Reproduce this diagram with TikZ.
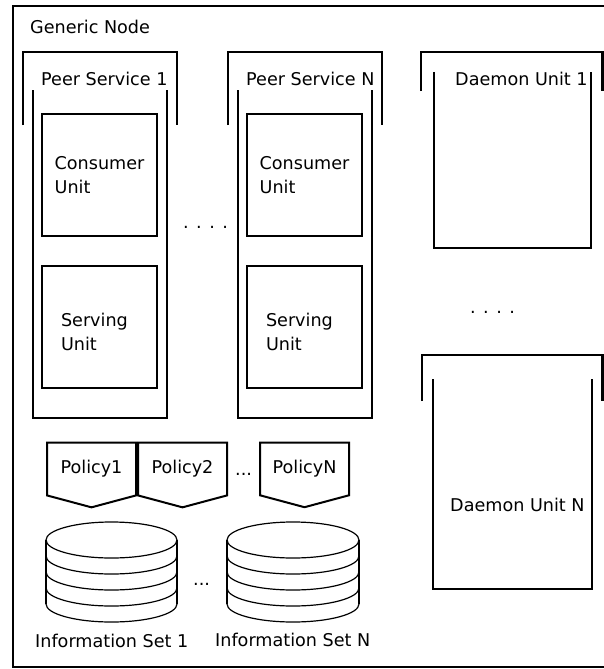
\documentclass[tikz,border=0pt]{standalone}
\usepackage{fontspec}
\setmainfont{DejaVu Sans}
\usetikzlibrary{shapes.symbols,positioning}

\begin{document}
\begin{tikzpicture}[x=1pt,y=-1pt,
    every node/.style={font=\fontsize{17.6}{24}\selectfont},
    textlabel/.style={anchor=base west,inner sep=0pt},
    unitbox/.style={rectangle,draw,line width=2.5pt,minimum width=115pt,minimum height=122pt,align=left},
    servbox/.style={unitbox,text width=77pt,text height=23pt},
    policy/.style={signal,signal to=south,signal pointer angle=150,draw,line width=2pt,minimum width=89pt,minimum height=62pt},
    bracket/.style={line width=2.5pt},
    disk/.style={line width=1.2pt}
]
\useasboundingbox (0,0) rectangle (604,669);

% Generic Node frame
\draw[line width=2.5pt] (13,6) rectangle (616,667);
\node[textlabel] (generic) at (30,34) {Generic Node};

% Peer Services
\draw[bracket] (23,125) |- (177,52) -- (177,125);
\draw[bracket] (33,90) |- (167,418) -- (167,90);
\node[textlabel] (peer1) at (41,85) {Peer Service 1};
\draw[bracket] (228,125) |- (382,52) -- (382,125);
\draw[bracket] (238,90) |- (372,418) -- (372,90);
\node[textlabel] (peerN) at (246,85) {Peer Service N};

\node[unitbox] (cons1) at (99.5,175) {Consumer\\Unit};
\node[servbox,below=27.5pt of cons1] (serv1) {Serving\\Unit};
\node[unitbox,right=87.5pt of cons1] (consN) {Consumer\\Unit};
\node[servbox,below=27.5pt of consN] (servN) {Serving\\Unit};
\node[textlabel] (dotsA) at (183,228) {. . . .};

% Daemon Units
\draw[bracket] (421,91) |- (602.5,52) -- (602.5,91);
\draw[bracket] (434,72) |- (591,248) -- (591,72);
\node[textlabel] (daemon1) at (455,85) {Daemon Unit 1};
\node[textlabel] (dotsB) at (470,313) {. . . .};
\draw[bracket] (422,401) |- (602.5,355) -- (602.5,401);
\draw[bracket] (433,379) |- (592,589) -- (592,379);
\node[textlabel] (daemonN) at (450,511) {Daemon Unit N};

% Policies
\node[policy] (pol1) at (91.5,469) {Policy1};
\node[policy,right=0pt of pol1] (pol2) {Policy2};
\node[policy,right=31pt of pol2] (polN) {PolicyN};
\node[textlabel] (dotsC) at (235,475) {...};

% Information Sets
\foreach \cx/\rx in {111.5/65.5, 293/66} {
  \draw[disk] (\cx,540) ellipse [x radius=\rx pt,y radius=18pt];
  \draw[disk] (\cx-\rx,540) -- (\cx-\rx,604) (\cx+\rx,540) -- (\cx+\rx,604);
  \foreach \yc in {556,572,588,604}
    \draw[disk] (\cx-\rx,\yc) arc [start angle=180,end angle=360,x radius=\rx pt,y radius=18pt];
}
\node[textlabel] (dotsD) at (193,585) {...};
\node[textlabel] (info1) at (35,647) {Information Set 1};
\node[textlabel] (infoN) at (215,646) {Information Set N};

\end{tikzpicture}
\end{document}
